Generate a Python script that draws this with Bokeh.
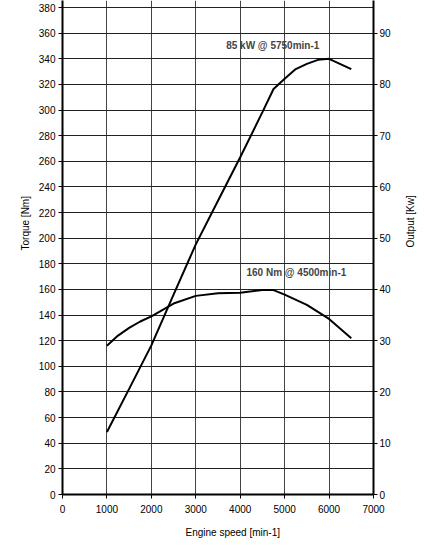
import math
from bokeh.plotting import figure
from bokeh.models import LinearAxis, Range1d, Label, FixedTicker, Title
from bokeh.embed import file_html
from bokeh.resources import INLINE

# data
rpm_torque = [1000, 1250, 1500, 1750, 2000, 2500, 3000, 3500, 4000, 4500, 4750, 5000, 5500, 6000, 6500]
torque_nm = [116, 124, 130, 135, 139, 149, 155, 157, 157.5, 159.5, 159.5, 156, 148, 137, 122]

rpm_power = [1000, 1500, 2000, 2500, 3000, 3500, 4000, 4500, 4750, 5000, 5250, 5500, 5750, 6000, 6500]
power_kw = [12.2, 20.6, 29.1, 39.0, 48.8, 57.3, 65.8, 74.6, 79.1, 81.1, 83.0, 84.0, 84.8, 85.0, 83.0]

torque_ticks = list(range(0, 381, 20))
power_ticks = list(range(0, 91, 10))
rpm_ticks = list(range(0, 7001, 1000))

FONT = "Liberation Sans"

p = figure(width=426, height=553,
           x_range=Range1d(0, 7000), y_range=Range1d(0, 385.5),
           toolbar_location=None, output_backend="svg",
           min_border_left=62, min_border_right=53,
           min_border_top=0, min_border_bottom=59)
p.extra_y_ranges = {"kw": Range1d(0, 385.5 / 4)}

p.outline_line_color = None
p.background_fill_color = "white"
p.border_fill_color = "white"

p.xgrid.ticker = FixedTicker(ticks=rpm_ticks)
p.ygrid.ticker = FixedTicker(ticks=torque_ticks)
p.xgrid.grid_line_color = "#444444"
p.ygrid.grid_line_color = "#222222"

right = LinearAxis(y_range_name="kw")
p.add_layout(right, "right")

p.xaxis.ticker = FixedTicker(ticks=rpm_ticks)
p.yaxis[0].ticker = FixedTicker(ticks=torque_ticks)
right.ticker = FixedTicker(ticks=power_ticks)

for ax in [p.xaxis[0], p.yaxis[0], right]:
    ax.axis_line_width = 2
    ax.axis_line_color = "black"
    ax.major_tick_line_color = "black"
    ax.major_tick_out = 4
    ax.major_tick_in = 0
    ax.minor_tick_line_color = None
    ax.major_label_text_font = FONT
    ax.major_label_text_font_size = "10px"
    ax.major_label_text_color = "black"
    ax.major_label_standoff = 3
p.xaxis.major_label_standoff = 6
right.major_label_standoff = 2

# right title reads bottom-to-top like the left one
right.axis_label = "Output [Kw]"
right.axis_label_orientation = math.pi / 2
right.axis_label_standoff = 17
right.axis_label_text_font = FONT
right.axis_label_text_font_size = "10px"
right.axis_label_text_font_style = "normal"
right.axis_label_text_color = "black"

p.line(rpm_torque, torque_nm, line_color="black", line_width=2)
p.line(rpm_power, power_kw, line_color="black", line_width=2, y_range_name="kw")

p.add_layout(Label(x=3684, y=350, text="85 kW @ 5750min-1", text_font=FONT,
                   text_font_size="10px", text_font_style="bold",
                   text_baseline="middle"))
p.add_layout(Label(x=4141, y=173, text="160 Nm @ 4500min-1", text_font=FONT,
                   text_font_size="10px", text_font_style="bold",
                   text_baseline="middle"))

for side, txt, off, so in [("left", "Torque [Nm]", 244, 10),
                           ("below", "Engine speed [min-1]", 123, 18)]:
    t = Title(text=txt, align="left", offset=off, text_font=FONT,
              text_font_size="10px", text_font_style="normal",
              text_color="black", standoff=so)
    p.add_layout(t, side)

open("out.html", "w").write(file_html(p, INLINE))
